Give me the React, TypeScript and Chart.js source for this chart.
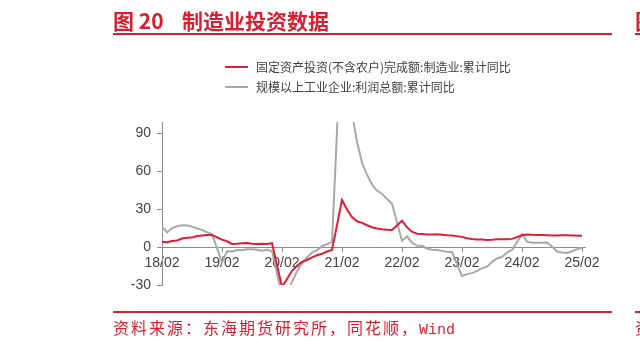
import React, { useEffect, useRef } from "react";
import { Chart, registerables } from "chart.js";
Chart.register(...registerables);

// Monthly, 2018-02 .. 2025-02 (index 0 = 18/02). January is not published (null).
const xTickLabels = ["18/02", "19/02", "20/02", "21/02", "22/02", "23/02", "24/02", "25/02"];
const yTickValues = [-30, 0, 30, 60, 90];

const seriesNames = [
  "固定资产投资(不含农户)完成额:制造业:累计同比",
  "规模以上工业企业:利润总额:累计同比",
];

const faiManufacturing: (number | null)[] = [
  4.3, 3.8, 4.8, 5.2, 6.8, 7.3, 7.5, 8.7, 9.1, 9.5, 9.5,
  null, 5.9, 4.6, 2.5, 2.7, 3.0, 3.3, 2.6, 2.5, 2.6, 2.5, 3.1,
  null, -31.5, -25.2, -18.8, -14.8, -11.7, -10.2, -8.1, -6.5, -5.3, -3.5, -2.2,
  null, 37.3, 29.8, 23.8, 20.4, 19.2, 17.3, 15.7, 14.8, 14.2, 13.7, 13.5,
  null, 20.9, 15.6, 12.2, 10.6, 10.4, 9.9, 10.0, 10.1, 9.7, 9.3, 9.1,
  null, 8.1, 7.0, 6.4, 6.0, 6.0, 5.7, 5.9, 6.2, 6.2, 6.3, 6.5,
  null, 9.4, 9.9, 9.7, 9.6, 9.5, 9.3, 9.1, 9.2, 9.3, 9.3, 9.2,
  null, 9.0,
];

const industrialProfit: (number | null)[] = [
  16.1, 11.6, 15.0, 16.5, 17.2, 17.1, 16.2, 14.7, 13.6, 11.8, 10.3,
  null, -12.0, -3.3, -3.4, -2.3, -2.4, -1.7, -1.7, -2.1, -2.9, -2.1, -3.3,
  null, -38.3, -36.7, -27.4, -19.3, -12.8, -8.1, -4.4, -2.4, 0.7, 2.4, 4.1,
  null, 178.9, 137.3, 106.0, 83.4, 66.9, 57.3, 49.5, 44.7, 42.2, 38.0, 34.3,
  null, 5.0, 8.5, 3.5, 1.0, 1.0, -1.1, -2.1, -2.3, -3.0, -3.6, -4.0,
  null, -22.9, -21.4, -20.6, -18.8, -16.8, -15.5, -11.7, -9.0, -7.8, -4.4, -2.3,
  null, 10.2, 4.3, 3.5, 3.4, 3.5, 3.6, 0.5, -3.5, -4.3, -4.7, -3.3,
  null, -0.3,
];

const RED_LINE = "#e31c36";
const GRAY_LINE = "#a8a8a8";
const TITLE_RED = "#d81e2f";
const AXIS = "#8c8c8c";
const TICK_TEXT = "#444444";
const TICK_FONT = '"Liberation Sans Narrow", "Liberation Sans", Arial, sans-serif';
const CJK = '"Noto Sans CJK SC", "Noto Sans", sans-serif';

export default function App() {
  const canvasRef = useRef<HTMLCanvasElement | null>(null);

  useEffect(() => {
    const canvas = canvasRef.current;
    if (!canvas) return;
    const toPts = (arr: (number | null)[]) => arr.map((v, i) => ({ x: i, y: v }));
    const chart = new Chart(canvas, {
      type: "line",
      data: {
        datasets: [
          {
            label: seriesNames[0],
            data: toPts(faiManufacturing) as any,
            borderColor: RED_LINE,
            backgroundColor: RED_LINE,
            borderWidth: 2,
            pointRadius: 0,
            tension: 0,
            spanGaps: true,
          },
          {
            label: seriesNames[1],
            data: toPts(industrialProfit) as any,
            borderColor: GRAY_LINE,
            backgroundColor: GRAY_LINE,
            borderWidth: 2,
            pointRadius: 0,
            tension: 0,
            spanGaps: true,
          },
        ],
      },
      options: {
        responsive: false,
        animation: false,
        devicePixelRatio: 1,
        layout: { padding: { left: 122, top: 122, right: 55, bottom: 61 } },
        plugins: { legend: { display: false }, tooltip: { enabled: false } },
        scales: {
          x: {
            type: "linear",
            position: { y: 0 } as any,
            min: 0,
            max: 84.6,
            grid: { drawOnChartArea: false, drawTicks: true, tickLength: 4, color: AXIS },
            border: { display: true, color: AXIS, width: 1 },
            ticks: {
              stepSize: 12,
              includeBounds: false,
              autoSkip: false,
              maxRotation: 0,
              padding: 4,
              color: TICK_TEXT,
              font: { family: TICK_FONT, size: 14 },
              callback: (v: any) => (Number(v) % 12 === 0 ? xTickLabels[Number(v) / 12] : ""),
            },
          },
          y: {
            type: "linear",
            min: -30,
            max: 99,
            afterFit: (s: any) => {
              s.width = 40;
            },
            afterBuildTicks: (s: any) => {
              s.ticks = yTickValues.map((v) => ({ value: v }));
            },
            grid: { drawOnChartArea: false, drawTicks: true, tickLength: 5, color: AXIS },
            border: { display: true, color: AXIS, width: 1 },
            ticks: {
              padding: 6,
              color: TICK_TEXT,
              font: { family: TICK_FONT, size: 14 },
            },
          },
        },
      },
    });
    return () => chart.destroy();
  }, []);

  const titleStyle: React.CSSProperties = {
    position: "absolute",
    top: 10,
    fontSize: 21,
    lineHeight: "21px",
    fontWeight: 700,
    color: TITLE_RED,
    whiteSpace: "nowrap",
  };

  return (
    <div
      style={{
        position: "fixed",
        left: 0,
        top: 0,
        width: 640,
        height: 346,
        background: "#ffffff",
        overflow: "hidden",
        fontFamily: CJK,
      }}
    >
      <canvas ref={canvasRef} width={640} height={346} style={{ position: "absolute", left: 0, top: 0 }} />
      {/* Title */}
      <div style={{ ...titleStyle, left: 113 }}>图 20</div>
      <div style={{ ...titleStyle, left: 182 }}>制造业投资数据</div>
      <div style={{ position: "absolute", left: 113, top: 33, width: 499, height: 2, background: TITLE_RED }} />
      <div style={{ ...titleStyle, left: 635 }}>图 21</div>
      <div style={{ position: "absolute", left: 635, top: 33, width: 20, height: 2, background: TITLE_RED }} />

      {/* Legend */}
      <div style={{ position: "absolute", left: 225, top: 66, width: 23, height: 2, background: RED_LINE }} />
      <div style={{ position: "absolute", left: 256, top: 59, fontSize: 12, lineHeight: "16px", color: "#404040", whiteSpace: "nowrap" }}>
        {seriesNames[0]}
      </div>
      <div style={{ position: "absolute", left: 225, top: 86, width: 23, height: 2, background: GRAY_LINE }} />
      <div style={{ position: "absolute", left: 256, top: 79, fontSize: 12, lineHeight: "16px", color: "#404040", whiteSpace: "nowrap" }}>
        {seriesNames[1]}
      </div>

      {/* Source */}
      <div style={{ position: "absolute", left: 113, top: 311, width: 499, height: 2, background: TITLE_RED }} />
      <div style={{ position: "absolute", left: 113, top: 318, fontSize: 16, lineHeight: "18px", letterSpacing: "2px", color: TITLE_RED, whiteSpace: "nowrap" }}>
        资料来源：东海期货研究所，同花顺，
        <span style={{ fontFamily: '"Liberation Mono", "DejaVu Sans Mono", monospace', fontSize: 15, letterSpacing: 0 }}>Wind</span>
      </div>
      <div style={{ position: "absolute", left: 635, top: 311, width: 20, height: 2, background: TITLE_RED }} />
      <div style={{ position: "absolute", left: 635, top: 318, fontSize: 16, lineHeight: "18px", color: TITLE_RED, whiteSpace: "nowrap" }}>
        资料
      </div>
    </div>
  );
}
